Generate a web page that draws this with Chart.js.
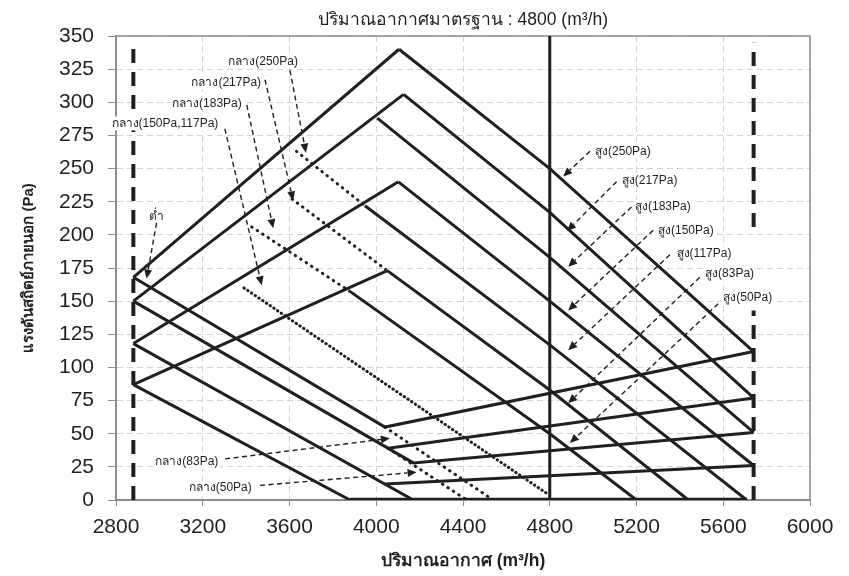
<!DOCTYPE html>
<html>
<head>
<meta charset="utf-8">
<script src="https://cdn.jsdelivr.net/npm/chart.js"></script>
<style>
  html, body { margin: 0; padding: 0; background: #fff; }
</style>
</head>
<body>
<canvas id="grafico" width="849" height="576"></canvas>
<script>
// Ejes
const xTicks = [2800, 3200, 3600, 4000, 4400, 4800, 5200, 5600, 6000];
const yTicks = [0, 25, 50, 75, 100, 125, 150, 175, 200, 225, 250, 275, 300, 325, 350];

// Lineas que suben desde el caudal minimo (m3/h, Pa)
const rise1 = [[2880, 168], [4105, 340]];
const rise2 = [[2880, 150], [4126, 306]];
const rise3 = [[2880, 118], [4102, 240]];
const rise4 = [[2880, 87], [4051, 173]];

// Velocidad alta (สูง)
const high250 = [[4105, 340], [4800, 250], [5740, 112]];
const high217 = [[4126, 306], [4800, 217], [5740, 77]];
const high183 = [[4005, 288], [4800, 183], [5740, 51]];
const high150 = [[4102, 240], [4800, 150], [5740, 26]];
const high117 = [[3948, 222], [4800, 117], [5708, 0]];
const high83 = [[4051, 173], [4800, 83], [5439, 0]];
const high50 = [[3882, 157], [4800, 50], [5200, 0]];

// Limites inferiores
const low1 = [[2880, 168], [4040, 55], [5740, 112]];
const low2 = [[2880, 150], [4171, 28], [5740, 51]];
const low3 = [[4055, 39], [5740, 77]];
const low4 = [[2880, 118], [4171, 0]];
const low5 = [[4042, 12], [5740, 26]];
const low6 = [[2880, 87], [3879, 0]];
const base = [[3879, 0], [5710, 0]];

// Velocidad media (กลาง), punteadas
const mid250 = [[3632, 263], [3948, 222]];
const mid217 = [[3612, 227], [4051, 173]];
const mid183 = [[3426, 206], [3882, 157]];
const mid150 = [[3390, 160], [4786, 5]];
const mid83 = [[4040, 55], [4539, 0]];
const mid50 = [[4055, 39], [4417, 0]];

// Verticales: caudal minimo, maximo y estandar
const minFlow = [[2880, 0], [2880, 345]];
const maxFlow = [[5740, 0], [5740, 143], [5740, null], [5740, 206], [5740, 345]];
const ratedFlow = [[4800, 0], [4800, 350]];

// Etiquetas con flecha: texto, ancla del texto, inicio y punta de la flecha
const notes = [
  { text: 'กลาง(250Pa)', at: [3639, 331], align: 'right', from: [3602, 324], to: [3676, 262] },
  { text: 'กลาง(217Pa)', at: [3469, 315], align: 'right', from: [3487, 317], to: [3617, 226] },
  { text: 'กลาง(183Pa)', at: [3380, 299], align: 'right', from: [3403, 298], to: [3525, 205] },
  { text: 'กลาง(150Pa,117Pa)', at: [3272, 284], align: 'right', from: [3302, 280], to: [3472, 162] },
  { text: 'กลาง(83Pa)', at: [3272, 29], align: 'right', from: [3303, 31], to: [4063, 46.5] },
  { text: 'กลาง(50Pa)', at: [3426, 9], align: 'right', from: [3464, 11], to: [4186, 21] },
  { text: 'ต่ำ', at: [2987, 214], align: 'center', from: [2987, 209], to: [2941, 167] },
  { text: 'สูง(250Pa)', at: [5009, 263], align: 'left', from: [4985, 263], to: [4862, 244] },
  { text: 'สูง(217Pa)', at: [5132, 240.5], align: 'left', from: [5108, 240], to: [4880, 203] },
  { text: 'สูง(183Pa)', at: [5193, 221], align: 'left', from: [5177, 221], to: [4885, 176] },
  { text: 'สูง(150Pa)', at: [5299, 203], align: 'left', from: [5277, 203.5], to: [4885, 143] },
  { text: 'สูง(117Pa)', at: [5385, 185.5], align: 'left', from: [5354, 185], to: [4885, 113] },
  { text: 'สูง(83Pa)', at: [5516, 170.5], align: 'left', from: [5492, 168], to: [4885, 73] },
  { text: 'สูง(50Pa)', at: [5600, 152.5], align: 'left', from: [5577, 148], to: [4893, 43] }
];

const chartTitle = 'ปริมาณอากาศมาตรฐาน : 4800 (m³/h)';
const xTitle = 'ปริมาณอากาศ (m³/h)';
const yTitle = 'แรงดันสถิตย์ภายนอก (Pa)';

const INK = '#231f20';
const FONT = '"Liberation Sans", "Noto Sans", "DejaVu Sans", sans-serif';

function pts(arr) {
    return arr.map(p => ({ x: p[0], y: p[1] }));
}

function solid(arr, width) {
    return { data: pts(arr), showLine: true, pointRadius: 0, borderColor: INK,
             borderWidth: width || 3, borderJoinStyle: 'miter', fill: false, spanGaps: false };
}

function dotted(arr, gap) {
    return { data: pts(arr), showLine: true, pointRadius: 0, borderColor: INK,
             borderWidth: 3, borderCapStyle: 'round', borderDash: [0.5, gap || 6], fill: false };
}

function dashedV(arr) {
    return { data: pts(arr), showLine: true, pointRadius: 0, borderColor: INK,
             borderWidth: 4, borderDash: [14, 9], fill: false, spanGaps: false };
}

const datasets = [
    solid(rise1), solid(rise2), solid(rise3), solid(rise4),
    solid(high250), solid(high217), solid(high183), solid(high150),
    solid(high117), solid(high83), solid(high50),
    solid(low1), solid(low2), solid(low3), solid(low4), solid(low5), solid(low6),
    solid(base, 4.5),
    dotted(mid250), dotted(mid217), dotted(mid183), dotted(mid150, 4),
    dotted(mid83), dotted(mid50),
    dashedV(minFlow), dashedV(maxFlow),
    solid(ratedFlow, 3)
];

// Marco, titulos y flechas
const extras = {
    id: 'extras',
    beforeDatasetsDraw(chart) {
        const { ctx, chartArea: a } = chart;
        ctx.save();
        ctx.strokeStyle = '#8c8c8c';
        ctx.lineWidth = 1.5;
        ctx.strokeRect(a.left, a.top, a.right - a.left, a.bottom - a.top);
        ctx.restore();
    },
    afterDatasetsDraw(chart) {
        const { ctx, scales: { x, y } } = chart;
        ctx.save();
        ctx.font = '12px ' + FONT;
        ctx.textBaseline = 'middle';
        notes.forEach(n => {
            const tx = x.getPixelForValue(n.at[0]);
            const ty = y.getPixelForValue(n.at[1]);
            const w = ctx.measureText(n.text).width;
            let left = tx;
            if (n.align === 'right') left = tx - w;
            if (n.align === 'center') left = tx - w / 2;
            ctx.fillStyle = '#fff';
            ctx.fillRect(left - 1, ty - 7, w + 2, 14);
            ctx.fillStyle = INK;
            ctx.textAlign = 'left';
            ctx.fillText(n.text, left, ty);

            // flecha
            const x1 = x.getPixelForValue(n.from[0]), y1 = y.getPixelForValue(n.from[1]);
            const x2 = x.getPixelForValue(n.to[0]), y2 = y.getPixelForValue(n.to[1]);
            const ang = Math.atan2(y2 - y1, x2 - x1);
            const len = 9, half = 4;
            const bx = x2 - len * Math.cos(ang), by = y2 - len * Math.sin(ang);
            ctx.strokeStyle = INK;
            ctx.lineWidth = 1.4;
            ctx.setLineDash([5, 3.5]);
            ctx.beginPath();
            ctx.moveTo(x1, y1);
            ctx.lineTo(bx, by);
            ctx.stroke();
            ctx.setLineDash([]);
            ctx.beginPath();
            ctx.moveTo(x2, y2);
            ctx.lineTo(bx + half * Math.sin(ang), by - half * Math.cos(ang));
            ctx.lineTo(bx - half * Math.sin(ang), by + half * Math.cos(ang));
            ctx.closePath();
            ctx.fillStyle = INK;
            ctx.fill();
        });
        ctx.restore();
    },
    afterDraw(chart) {
        const { ctx, chartArea: a } = chart;
        const cx = (a.left + a.right) / 2;
        ctx.save();
        ctx.fillStyle = INK;
        ctx.textAlign = 'center';
        ctx.textBaseline = 'middle';
        ctx.font = '17.5px ' + FONT;
        ctx.fillText(chartTitle, cx, 20);
        ctx.font = 'bold 17.5px ' + FONT;
        ctx.fillText(xTitle, cx, 561);
        ctx.font = 'bold 15px ' + FONT;
        ctx.translate(29, (a.top + a.bottom) / 2);
        ctx.rotate(-Math.PI / 2);
        ctx.fillText(yTitle, 0, 0);
        ctx.restore();
    }
};

const ctx = document.getElementById('grafico').getContext('2d');
new Chart(ctx, {
    type: 'scatter',
    data: { datasets: datasets },
    options: {
        responsive: false,
        animation: false,
        devicePixelRatio: 1,
        layout: { padding: { top: 36, right: 39, left: 0, bottom: 0 } },
        plugins: { legend: { display: false }, tooltip: { enabled: false } },
        scales: {
            x: {
                type: 'linear', min: 2800, max: 6000,
                afterBuildTicks: s => { s.ticks = xTicks.map(v => ({ value: v })); },
                afterFit: s => { s.height = 76; },
                ticks: { font: { family: FONT, size: 21 }, color: INK, padding: 9, maxRotation: 0,
                         callback: v => String(v) },
                grid: { color: '#d4d4d4', tickLength: 6, tickColor: '#8c8c8c', tickBorderDash: [20, 0] },
                border: { color: '#8c8c8c', width: 2, dash: [6, 4] }
            },
            y: {
                type: 'linear', min: 0, max: 350,
                afterBuildTicks: s => { s.ticks = yTicks.map(v => ({ value: v })); },
                afterFit: s => { s.width = 116; },
                ticks: { font: { family: FONT, size: 21 }, color: INK, padding: 14,
                         callback: v => String(v) },
                grid: { color: '#d4d4d4', tickLength: 8, tickColor: '#8c8c8c', tickBorderDash: [20, 0] },
                border: { color: '#8c8c8c', width: 2, dash: [6, 4] }
            }
        }
    },
    plugins: [extras]
});
</script>
</body>
</html>
